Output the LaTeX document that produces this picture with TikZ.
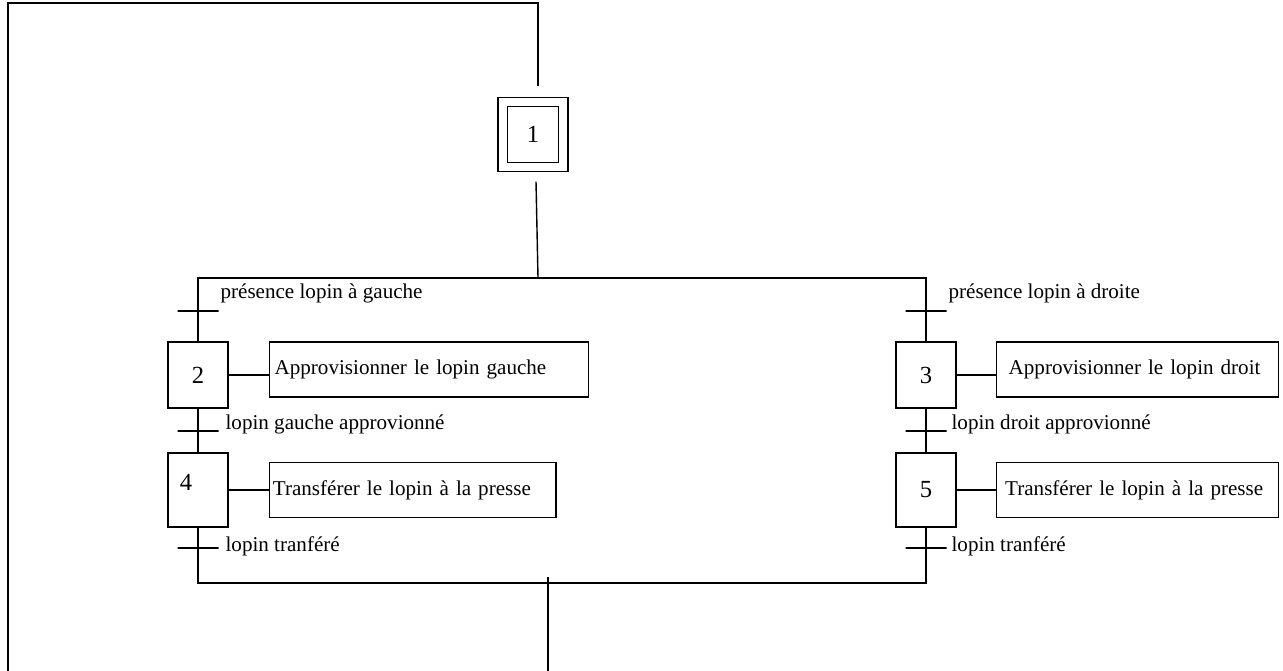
\documentclass[tikz,border=0pt]{standalone}
\usepackage{fontspec}
\setmainfont{Liberation Serif}
\usetikzlibrary{positioning,calc}
\tikzset{
  stepbox/.style={draw, line width=0.8pt, minimum width=1.2cm, minimum height=#1,
        inner sep=0pt, font=\fontsize{14}{16}\selectfont},
  initstep/.style={draw, double, double distance=0.16cm, line width=0.8pt,
        minimum width=1.21cm, minimum height=1.3cm, inner sep=0pt,
        font=\fontsize{14}{16}\selectfont},
  action/.style={draw, line width=0.8pt, minimum height=1.1cm, text width=#1,
        align=left, inner xsep=3pt, inner ysep=0pt, font=\fontsize{12}{14}\selectfont},
  tbar/.style={draw, line width=0.8pt, minimum width=0.82cm, minimum height=0pt,
        inner sep=0pt, outer sep=0pt},
  tlab/.style={font=\fontsize{12}{14}\selectfont, inner sep=1pt},
  link/.style={line width=0.8pt},
}

\begin{document}
\begin{tikzpicture}[x=0.02cm, y=-0.02cm]
  \useasboundingbox (0,0) rectangle (1283,671);
  % initial step
  \node[initstep] (s1) at (533,134.5) {1};
  % left branch
  \node[tbar, label={[tlab, yshift=0.36cm]right:présence lopin à gauche}] (tL1) at (198,311) {};
  \node[stepbox=1.32cm] (s2) at (198,375) {2};
  \node[action=6.17cm, right=0.8cm of s2, yshift=0.11cm] (a2) {Approvisionner le lopin gauche};
  \node[tbar, label={[tlab, xshift=0.1cm, yshift=0.14cm]right:lopin gauche approvionné}] (tL2) at (198,431) {};
  \node[stepbox=1.48cm, label={[font=\fontsize{14}{16}\selectfont, xshift=-0.24cm, yshift=0.16cm]center:4}] (s4) at (198,490) {};
  \node[action=5.59cm, inner xsep=2pt, right=0.8cm of s4] (a4) {Transférer le lopin à la presse};
  \node[tbar, label={[tlab, xshift=0.1cm, yshift=0.04cm]right:lopin tranféré}] (tL3) at (198,548) {};
  % right branch
  \node[tbar, label={[tlab, yshift=0.36cm]right:présence lopin à droite}] (tR1) at (926,311) {};
  \node[stepbox=1.32cm] (s3) at (926,375) {3};
  \node[action=5.15cm, inner xsep=7pt, right=0.78cm of s3, yshift=0.11cm] (a3) {Approvisionner le lopin droit};
  \node[tbar, label={[tlab, xshift=0.06cm, yshift=0.14cm]right:lopin droit approvionné}] (tR2) at (926,431) {};
  \node[stepbox=1.48cm] (s5) at (926,490) {5};
  \node[action=5.29cm, inner xsep=5pt, right=0.78cm of s5] (a5) {Transférer le lopin à la presse};
  \node[tbar, label={[tlab, xshift=0.06cm, yshift=0.04cm]right:lopin tranféré}] (tR3) at (926,548) {};

  \coordinate (div) at (538,278);
  \coordinate (join) at (548,583);
  \coordinate (loopTop) at (538,3);
  \coordinate (loopEnd) at (8,671);
  \coordinate (outEnd) at (548,671);

  % return loop to step 1
  \draw[link] (loopEnd) |- (loopTop) -- ($(s1.north)+(5,-15)$);
  % divergence and convergence
  \draw[link] ($(s1.south)+(3,14)$) -- (div);
  \draw[link] (tL1) |- (div) -| (tR1);
  \draw[link] (tL1) -- (s2) -- (tL2) -- (s4) -- (tL3) |- (join) -| (tR3);
  \draw[link] (tR1) -- (s3) -- (tR2) -- (s5) -- (tR3);
  \draw[link] ($(join)+(0,-6)$) -- (outEnd);
  % actions
  \draw[link] (s2.east) -- (s2.east -| a2.west);
  \draw[link] (s4.east) -- (s4.east -| a4.west);
  \draw[link] (s3.east) -- (s3.east -| a3.west);
  \draw[link] (s5.east) -- (s5.east -| a5.west);
\end{tikzpicture}
\end{document}
